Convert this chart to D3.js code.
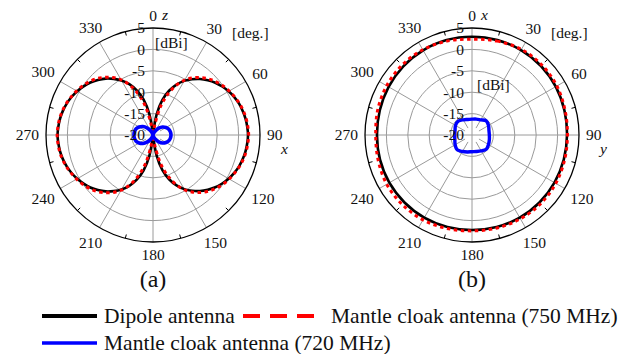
<!DOCTYPE html>
<html>
<head>
<meta charset="utf-8">
<script src="https://cdn.jsdelivr.net/npm/d3@7"></script>
<style>
  body { margin: 0; background: #fff; }
  svg { display: block; }
  text { font-family: "Liberation Serif", "Times New Roman", serif; fill: #111; }
</style>
</head>
<body>
<svg id="chart" width="627" height="354" font-family="Liberation Serif, Times New Roman, serif"></svg>
<script>
// ---- axis ticks ----
const angleTicks = [0, 30, 60, 90, 120, 150, 180, 210, 240, 270, 300, 330];
const minorAngleTicks = [15, 45, 75, 105, 135, 165, 195, 225, 255, 285, 315, 345];
const gainTicks = [-20, -15, -10, -5, 0, 5];

// ---- (a) E-plane cut, 5 degree sampling ----
const anglesE = [0, 5, 10, 15, 20, 25, 30, 35, 40, 45, 50, 55, 60, 65, 70, 75, 80, 85,
  90, 95, 100, 105, 110, 115, 120, 125, 130, 135, 140, 145, 150, 155, 160, 165, 170, 175,
  180, 185, 190, 195, 200, 205, 210, 215, 220, 225, 230, 235, 240, 245, 250, 255, 260, 265,
  270, 275, 280, 285, 290, 295, 300, 305, 310, 315, 320, 325, 330, 335, 340, 345, 350, 355];
const dipoleE = [-40, -21, -15.1, -11.5, -9.0, -7.0, -5.4, -4.1, -2.9, -1.9, -1.0, -0.25, 0.4, 0.95, 1.4, 1.7, 1.95, 2.1,
  2.2, 2.1, 1.95, 1.7, 1.4, 0.95, 0.4, -0.25, -1.0, -1.9, -2.9, -4.1, -5.4, -7.0, -9.0, -11.5, -15.1, -21,
  -40, -21, -15.0, -11.4, -8.9, -6.9, -5.3, -4.0, -2.8, -1.8, -0.9, -0.2, 0.45, 1.0, 1.45, 1.8, 2.05, 2.2,
  2.3, 2.2, 2.05, 1.8, 1.45, 1.0, 0.45, -0.2, -0.9, -1.8, -2.8, -4.0, -5.3, -6.9, -8.9, -11.4, -15.0, -21];
const cloak750E = [-40, -24, -17.5, -13.0, -9.8, -7.2, -5.2, -3.7, -2.5, -1.5, -0.7, 0.0, 0.55, 1.05, 1.5, 1.85, 2.1, 2.25,
  2.35, 2.25, 2.1, 1.85, 1.5, 1.05, 0.55, 0.0, -0.7, -1.5, -2.5, -3.7, -5.2, -7.2, -9.8, -13.0, -17.5, -24,
  -40, -24, -17.4, -12.9, -9.7, -7.1, -5.1, -3.6, -2.4, -1.4, -0.6, 0.05, 0.6, 1.1, 1.55, 1.9, 2.15, 2.3,
  2.4, 2.3, 2.15, 1.9, 1.55, 1.1, 0.6, 0.05, -0.6, -1.4, -2.4, -3.6, -5.1, -7.1, -9.7, -12.9, -17.4, -24];

// ---- (a) 720 MHz, 10 degree sampling ----
const anglesE10 = [0, 10, 20, 30, 40, 50, 60, 70, 80, 90, 100, 110, 120, 130, 140, 150, 160, 170,
  180, 190, 200, 210, 220, 230, 240, 250, 260, 270, 280, 290, 300, 310, 320, 330, 340, 350];
const cloak720E = [-20, -19.88, -19.53, -18.83, -17.9, -17.08, -16.5, -16.08, -15.87, -15.8, -15.87, -16.08, -16.5, -17.08, -17.9, -18.83, -19.53, -19.88,
  -20, -19.88, -19.5, -18.75, -17.8, -16.9, -16.25, -15.8, -15.6, -15.55, -15.6, -15.8, -16.25, -16.9, -17.8, -18.75, -19.5, -19.88];

// ---- (b) H-plane cut, 15 degree sampling ----
const anglesH = [0, 15, 30, 45, 60, 75, 90, 105, 120, 135, 150, 165,
  180, 195, 210, 225, 240, 255, 270, 285, 300, 315, 330, 345];
const dipoleH = [2.95, 2.95, 2.9, 2.8, 2.6, 2.35, 2.2, 2.2, 2.25, 2.3, 2.3, 2.25,
  2.2, 2.25, 2.3, 2.3, 2.3, 2.25, 2.2, 2.3, 2.5, 2.7, 2.85, 2.95];
const cloak750H = [2.4, 2.7, 3.1, 3.1, 2.9, 2.5, 2.3, 2.4, 2.6, 2.7, 2.6, 2.5,
  2.4, 2.6, 2.9, 3.0, 3.0, 2.7, 2.5, 2.8, 3.0, 3.1, 3.0, 2.7];
const cloak720H = [-16.3, -16.15, -15.9, -15.3, -15.55, -15.9, -15.95, -15.8, -15.55, -15.3, -15.7, -16.0,
  -16.1, -15.9, -15.55, -15.1, -15.45, -15.85, -15.95, -15.9, -15.55, -15.45, -15.9, -16.25];

// ---- legend ----
const seriesNames = ["Dipole antenna", "Mantle cloak antenna (750 MHz)", "Mantle cloak antenna (720 MHz)"];
const seriesColors = ["#000000", "#ff0000", "#0000ff"];
const panelTags = ["(a)", "(b)"];

// ---- layout ----
const svg = d3.select("#chart");
const R = 107;
const tickFont = 15.5;
const rScale = d3.scaleLinear().domain([-20, 5]).range([0, R]).clamp(true);
const rad = d => d * Math.PI / 180;

const panels = [
  {
    cx: 153, cy: 135, tag: panelTags[0], up: "z", side: "x", dbiX: 2, dbiY: 43,
    series: [
      { angles: anglesE, values: dipoleE, color: seriesColors[0], width: 2.6, dash: null },
      { angles: anglesE, values: cloak750E, color: seriesColors[1], width: 3, dash: "3.5 3.5" },
      { angles: anglesE10, values: cloak720E, color: seriesColors[2], width: 3.6, dash: null }
    ]
  },
  {
    cx: 472, cy: 135, tag: panelTags[1], up: "x", side: "y", dbiX: 5, dbiY: 85,
    series: [
      { angles: anglesH, values: dipoleH, color: seriesColors[0], width: 2.6, dash: null },
      { angles: anglesH, values: cloak750H, color: seriesColors[1], width: 3, dash: "3.5 3.5" },
      { angles: anglesH, values: cloak720H, color: seriesColors[2], width: 3.4, dash: null }
    ]
  }
];

panels.forEach(p => {
  const g = svg.append("g").attr("transform", `translate(${p.cx},${p.cy})`);

  // gain rings
  g.selectAll("circle.ring")
    .data(gainTicks.filter(v => v > -20 && v < 5))
    .join("circle")
    .attr("r", d => rScale(d))
    .attr("fill", "none")
    .attr("stroke", "#9a9a9a")
    .attr("stroke-width", 1);

  // spokes
  g.selectAll("line.spoke")
    .data(angleTicks)
    .join("line")
    .attr("x1", d => (d % 90 === 0 ? 0 : 8) * Math.sin(rad(d)))
    .attr("y1", d => -(d % 90 === 0 ? 0 : 8) * Math.cos(rad(d)))
    .attr("x2", d => R * Math.sin(rad(d)))
    .attr("y2", d => -R * Math.cos(rad(d)))
    .attr("stroke", "#9a9a9a")
    .attr("stroke-width", 1);

  // outer frame + minor ticks
  g.append("circle").attr("r", R).attr("fill", "none").attr("stroke", "#000").attr("stroke-width", 1.3);
  g.selectAll("line.minor")
    .data(minorAngleTicks)
    .join("line")
    .attr("x1", d => R * Math.sin(rad(d)))
    .attr("y1", d => -R * Math.cos(rad(d)))
    .attr("x2", d => (R - 4) * Math.sin(rad(d)))
    .attr("y2", d => -(R - 4) * Math.cos(rad(d)))
    .attr("stroke", "#000")
    .attr("stroke-width", 1);

  // pattern curves
  p.series.forEach(s => {
    const pts = s.angles.map((a, i) => [rad(a), rScale(s.values[i])]);
    const line = d3.lineRadial().curve(d3.curveCatmullRomClosed.alpha(0.5));
    g.append("path")
      .attr("d", line(pts))
      .attr("fill", "none")
      .attr("stroke", s.color)
      .attr("stroke-width", s.width)
      .attr("stroke-dasharray", s.dash)
      .attr("stroke-linejoin", "round");
  });

  // gain labels
  g.selectAll("text.gain")
    .data(gainTicks)
    .join("text")
    .attr("x", -8)
    .attr("y", d => -rScale(d))
    .attr("dy", "0.35em")
    .attr("text-anchor", "end")
    .style("font-size", tickFont + "px")
    .text(d => d);

  // angle labels
  g.selectAll("text.ang")
    .data(angleTicks)
    .join("text")
    .each(function (d) {
      const w = String(d).length * 0.5 * tickFont;
      const s = Math.sin(rad(d)), c = Math.cos(rad(d));
      const rl = 114 + Math.abs(s) * w / 2 + Math.abs(c) * 5.5;
      d3.select(this)
        .attr("x", rl * s)
        .attr("y", -rl * c)
        .attr("dy", "0.35em");
    })
    .attr("text-anchor", "middle")
    .style("font-size", tickFont + "px")
    .text(d => d);

  // axis letters and units
  g.append("text").attr("x", 9).attr("y", -115)
    .style("font-size", tickFont + "px").style("font-style", "italic").text(p.up);
  g.append("text").attr("x", 128).attr("y", 19)
    .style("font-size", tickFont + "px").style("font-style", "italic").text(p.side);
  g.append("text").attr("x", 79).attr("y", -102).attr("dy", "0.35em")
    .style("font-size", tickFont + "px").text("[deg.]");
  g.append("text").attr("x", p.dbiX).attr("y", p.dbiY - p.cy).attr("dy", "0.35em")
    .style("font-size", tickFont + "px").text("[dBi]");

  // panel tag
  svg.append("text").attr("x", p.cx).attr("y", 287).attr("text-anchor", "middle")
    .style("font-size", "24px").text(p.tag);
});

// ---- legend ----
const legendFont = "21.5px";
const lg = svg.append("g");
const legendRows = [
  { x: 42, y: 316, name: seriesNames[0], color: seriesColors[0], dash: null, w: 4 },
  { x: 243, y: 316, name: seriesNames[1], color: seriesColors[1], dash: "17 10", w: 4, tx: 331 },
  { x: 42, y: 343, name: seriesNames[2], color: seriesColors[2], dash: null, w: 3.5 }
];
legendRows.forEach(r => {
  const len = r.dash ? 72 : 55;
  lg.append("line")
    .attr("x1", r.x).attr("x2", r.x + len)
    .attr("y1", r.y).attr("y2", r.y)
    .attr("stroke", r.color).attr("stroke-width", r.w)
    .attr("stroke-dasharray", r.dash);
  lg.append("text")
    .attr("x", r.tx || r.x + 62)
    .attr("y", r.y + 7)
    .style("font-size", legendFont)
    .text(r.name);
});
</script>
</body>
</html>
